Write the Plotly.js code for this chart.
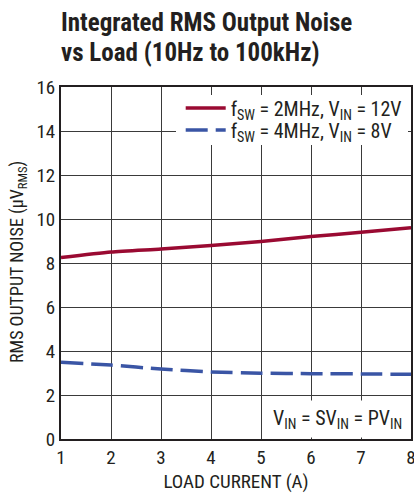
<!DOCTYPE html>
<html>
<head>
<meta charset="utf-8">
<script src="https://cdn.plot.ly/plotly-3.0.1.min.js"></script>
<style>html,body{margin:0;padding:0;background:#fff;}#chart{width:414px;height:493px;}</style>
</head>
<body>
<div id="chart"></div>
<script>
const loadCurrent = [1, 2, 3, 4, 5, 6, 7, 8];
const noise2MHz = [8.25, 8.5, 8.64, 8.8, 8.98, 9.2, 9.4, 9.6];
const noise4MHz = [3.49, 3.36, 3.18, 3.05, 2.99, 2.97, 2.96, 2.94];
const seriesNames = ["f<sub>SW</sub> = 2MHz, V<sub>IN</sub> = 12V", "f<sub>SW</sub> = 4MHz, V<sub>IN</sub> = 8V"];
const xTicks = [1, 2, 3, 4, 5, 6, 7, 8];
const yTicks = [0, 2, 4, 6, 8, 10, 12, 14, 16];
const titleLines = ["Integrated RMS Output Noise", "vs Load (10Hz to 100kHz)"];
const yTitle = 'RMS OUTPUT NOISE (μV<sub>RMS</sub>)';

const FONT = "'Liberation Sans Narrow', 'Roboto Condensed', 'DejaVu Sans Condensed', Arial, sans-serif";
const INK = '#231f20';

const traces = [
  {x: loadCurrent, y: noise2MHz, name: seriesNames[0], legend: 'legend', mode: 'lines', line: {color: '#9a0a32', width: 3.5, shape: 'spline', smoothing: 0.6}},
  {x: loadCurrent, y: noise4MHz, name: seriesNames[1], legend: 'legend2', mode: 'lines', line: {color: '#3a55a5', width: 3.5, dash: '22px,8px', shape: 'spline', smoothing: 0.6}}
];

const py = (px) => 1 - (px - 87) / 352;
const pxX = (px) => (px - 61) / 350;
const legendCommon = {
  xanchor: 'left', yanchor: 'middle', bgcolor: 'rgba(0,0,0,0)', borderwidth: 0,
  font: {family: FONT, size: 20, color: INK}, itemwidth: 40
};

const layout = {
  width: 414, height: 493,
  margin: {l: 61, r: 3, t: 87, b: 54},
  paper_bgcolor: '#fff', plot_bgcolor: '#fff',
  font: {family: FONT, size: 17, color: INK},
  xaxis: {
    range: [1, 8], tickvals: xTicks, ticktext: xTicks.map(String),
    showgrid: true, gridcolor: '#3a3a3a', gridwidth: 1,
    showline: true, linecolor: INK, linewidth: 2, mirror: true,
    ticks: '', zeroline: false, ticklabeloverflow: 'allow',
    tickfont: {family: FONT, size: 19, color: INK},
    title: {text: 'LOAD CURRENT (A)', font: {family: FONT, size: 19, color: INK}, standoff: 13}
  },
  yaxis: {
    range: [0, 16], tickvals: yTicks, ticktext: yTicks.map(String),
    showgrid: true, gridcolor: '#3a3a3a', gridwidth: 1,
    showline: true, linecolor: INK, linewidth: 2, mirror: true,
    ticks: '', zeroline: false,
    tickfont: {family: FONT, size: 19, color: INK},
    title: {text: ''}
  },
  legend: Object.assign({x: 0.342, y: py(108)}, legendCommon),
  legend2: Object.assign({x: 0.342, y: py(130)}, legendCommon),
  showlegend: true,
  shapes: [{
    type: 'rect', xref: 'paper', yref: 'paper', layer: 'above',
    x0: pxX(176), x1: pxX(408), y0: py(145), y1: py(95),
    fillcolor: '#fff', line: {width: 0}
  }],
  annotations: [
    {
      xref: 'paper', yref: 'paper', x: (59 - 61) / 350, y: py(23),
      xanchor: 'left', yanchor: 'middle', align: 'left', showarrow: false,
      text: '<b>' + titleLines[0] + '</b>',
      font: {family: FONT, size: 25, color: INK}
    },
    {
      xref: 'paper', yref: 'paper', x: (59 - 61) / 350, y: py(52),
      xanchor: 'left', yanchor: 'middle', align: 'left', showarrow: false,
      text: '<b>' + titleLines[1] + '</b>',
      font: {family: FONT, size: 25, color: INK}
    },
    {
      xref: 'paper', yref: 'paper', x: pxX(18), y: py(262),
      xanchor: 'center', yanchor: 'middle', textangle: -90, showarrow: false,
      text: yTitle,
      font: {family: FONT, size: 18, color: INK}
    },
    {
      xref: 'x', yref: 'y', x: 8, y: 0, xanchor: 'right', yanchor: 'bottom',
      text: 'V<sub>IN</sub> = SV<sub>IN</sub> = PV<sub>IN</sub>',
      showarrow: false, bgcolor: '#fff', borderpad: 5, xshift: -3, yshift: 1,
      font: {family: FONT, size: 20, color: INK}
    }
  ]
};

Plotly.newPlot('chart', traces, layout, {staticPlot: true, displayModeBar: false});
</script>
</body>
</html>
